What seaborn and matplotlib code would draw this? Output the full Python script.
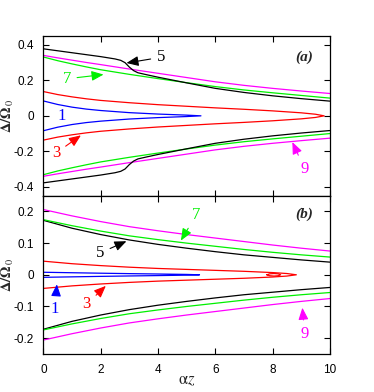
import matplotlib
matplotlib.use('Agg')
import matplotlib.pyplot as plt
import seaborn as sns

# ---- panel (a): upper branches (lower ones are mirror images)
a_x = [0, 0.5, 1, 1.5, 2, 3, 4, 5, 6, 7, 8, 9, 10]
a_mag = [0.341, 0.327, 0.314, 0.301, 0.289, 0.264, 0.240, 0.216, 0.192, 0.172, 0.155, 0.140, 0.126]
a_grn = [0.332, 0.311, 0.293, 0.276, 0.260, 0.234, 0.210, 0.187, 0.165, 0.146, 0.130, 0.115, 0.100]
a_blk_x = [0, 0.5, 1, 1.5, 2, 2.5, 2.7, 2.85, 3.0, 3.15, 3.3, 3.6, 4, 5, 6, 7, 8, 9, 10]
a_blk = [0.378, 0.367, 0.356, 0.345, 0.334, 0.321, 0.313, 0.300, 0.275, 0.255, 0.243, 0.232,
         0.218, 0.186, 0.155, 0.132, 0.113, 0.097, 0.083]
a_red_x = [0, 0.5, 1, 1.5, 2, 3, 4, 5, 6, 7, 8, 9, 9.5, 9.8]
a_red = [0.137, 0.120, 0.107, 0.096, 0.087, 0.074, 0.063, 0.054, 0.045, 0.037, 0.028, 0.017, 0.009, 0.0]
a_blu_x = [0, 0.5, 1, 1.5, 2, 3, 4, 5, 5.5]
a_blu = [0.084, 0.064, 0.049, 0.038, 0.030, 0.018, 0.010, 0.004, 0.0]

# ---- panel (b)
b_x = [0, 1, 2, 3, 4, 5, 6, 7, 8, 9, 10]
b_mag = [0.206, 0.186, 0.168, 0.152, 0.139, 0.127, 0.116, 0.105, 0.094, 0.084, 0.075]
b_grn = [0.174, 0.155, 0.138, 0.123, 0.111, 0.100, 0.090, 0.080, 0.071, 0.063, 0.056]
b_blk = [0.172, 0.147, 0.127, 0.110, 0.096, 0.084, 0.073, 0.063, 0.055, 0.047, 0.040]
b_red_x = [0, 1, 2, 3, 4, 5, 6, 7, 8, 8.5, 8.83]
b_red = [0.043, 0.035, 0.029, 0.024, 0.020, 0.017, 0.014, 0.011, 0.007, 0.004, 0.0]
b_isl_x = [7.8, 7.9, 8.05, 8.2, 8.28, 8.2, 8.05, 7.9, 7.8]
b_isl = [0.0, 0.003, 0.004, 0.003, 0.0, -0.003, -0.004, -0.003, 0.0]
b_blu_x = [0, 1, 2, 3, 4, 5, 5.45]
b_blu = [0.008, 0.0065, 0.005, 0.0037, 0.0025, 0.0012, 0.0]

x_ticks = [0, 2, 4, 6, 8, 10]
a_yticks = [-0.4, -0.2, 0, 0.2, 0.4]
a_ylabels = ['-0.4', '-0.2', '0', '0.2', '0.4']
b_yticks = [-0.2, -0.1, 0, 0.1, 0.2]
b_ylabels = ['-0.2', '-0.1', '0', '0.1', '0.2']

BLUE, RED, BLACK, GREEN, MAG = '#0000ff', '#ff0000', '#000000', '#00f000', '#ff00ff'

sns.set_style("ticks")
plt.rcParams['font.family'] = ['Liberation Sans', 'DejaVu Sans']
plt.rcParams['mathtext.fontset'] = 'stix'


def pair(ax, x, y, color):
    # separate upper and lower branch
    sns.lineplot(x=x, y=y, ax=ax, color=color, lw=0.9, sort=False, estimator=None)
    sns.lineplot(x=x, y=[-v for v in y], ax=ax, color=color, lw=0.9, sort=False, estimator=None)


def loop(ax, x, y, color):
    # closed tongue: upper branch out, lower branch back
    xx = list(x) + list(x[::-1][1:])
    yy = list(y) + [-v for v in y[::-1][1:]]
    sns.lineplot(x=xx, y=yy, ax=ax, color=color, lw=0.9, sort=False, estimator=None)


def note(ax, txt, xy, xyt, color):
    ax.annotate(txt, xy=xy, xytext=xyt, color=color, fontsize=12,
                family='Liberation Serif', ha='center', va='center',
                arrowprops=dict(arrowstyle='-|>,head_length=0.6,head_width=0.25',
                                color=color, lw=0.8, shrinkA=2, shrinkB=0))


fig = plt.figure(figsize=(3.74, 3.92), dpi=100)
ax1 = fig.add_axes([0.116, 0.501, 0.766, 0.407])
ax2 = fig.add_axes([0.116, 0.097, 0.766, 0.404])

# (a)
loop(ax1, a_blu_x, a_blu, BLUE)
loop(ax1, a_red_x, a_red, RED)
pair(ax1, a_x, a_grn, GREEN)
pair(ax1, a_x, a_mag, MAG)
pair(ax1, a_blk_x, a_blk, BLACK)

note(ax1, '5', (2.9, 0.298), (4.1, 0.33), BLACK)
note(ax1, '7', (2.1, 0.233), (0.82, 0.209), GREEN)
ax1.text(0.64, 0.0, '1', color=BLUE, fontsize=12, family='Liberation Serif', ha='center', va='center')
note(ax1, '3', (1.31, -0.11), (0.44, -0.21), RED)
note(ax1, '9', (8.69, -0.148), (9.12, -0.30), MAG)
ax1.text(9.1, 0.33, '(a)', fontsize=11, family='Liberation Serif', fontweight='bold',
         style='italic', ha='center', va='center')

# (b)
loop(ax2, b_blu_x, b_blu, BLUE)
loop(ax2, b_red_x, b_red, RED)
sns.lineplot(x=b_isl_x, y=b_isl, ax=ax2, color=RED, lw=0.9, sort=False, estimator=None)
pair(ax2, b_x, b_blk, BLACK)
pair(ax2, b_x, b_grn, GREEN)
pair(ax2, b_x, b_mag, MAG)

note(ax2, '7', (4.8, 0.108), (5.34, 0.19), GREEN)
note(ax2, '5', (2.9, 0.106), (1.98, 0.069), BLACK)
note(ax2, '1', (0.47, -0.03), (0.41, -0.109), BLUE)
note(ax2, '3', (2.18, -0.035), (1.51, -0.093), RED)
note(ax2, '9', (9.04, -0.104), (9.12, -0.187), MAG)
ax2.text(9.1, 0.19, '(b)', fontsize=11, family='Liberation Serif', fontweight='bold',
         style='italic', ha='center', va='center')

for ax, lim, ticks, labels in [(ax1, 0.45, a_yticks, a_ylabels), (ax2, 0.25, b_yticks, b_ylabels)]:
    ax.set_xlim(0, 10)
    ax.set_ylim(-lim, lim)
    ax.set_xticks(x_ticks)
    ax.set_yticks(ticks)
    ax.set_yticklabels(labels)
    ax.tick_params(direction='in', top=True, right=True, length=4, width=0.8,
                   labelsize=8.5, colors='black', pad=7)
    for s in ax.spines.values():
        s.set_linewidth(0.9)
        s.set_color('black')
    ax.set_ylabel(r'$\mathbf{\Delta/\Omega}_{\,0}$', fontsize=10.5, labelpad=0)
    ax.yaxis.set_label_coords(-0.095, 0.5)

ax1.set_xticklabels([])
ax1.set_xlabel('')
ax2.set_xticklabels([str(t) for t in x_ticks])
ax2.set_xlabel(r'$\mathrm{\alpha}z$', fontsize=12, labelpad=-2)

fig.savefig('out.png', dpi=100)
